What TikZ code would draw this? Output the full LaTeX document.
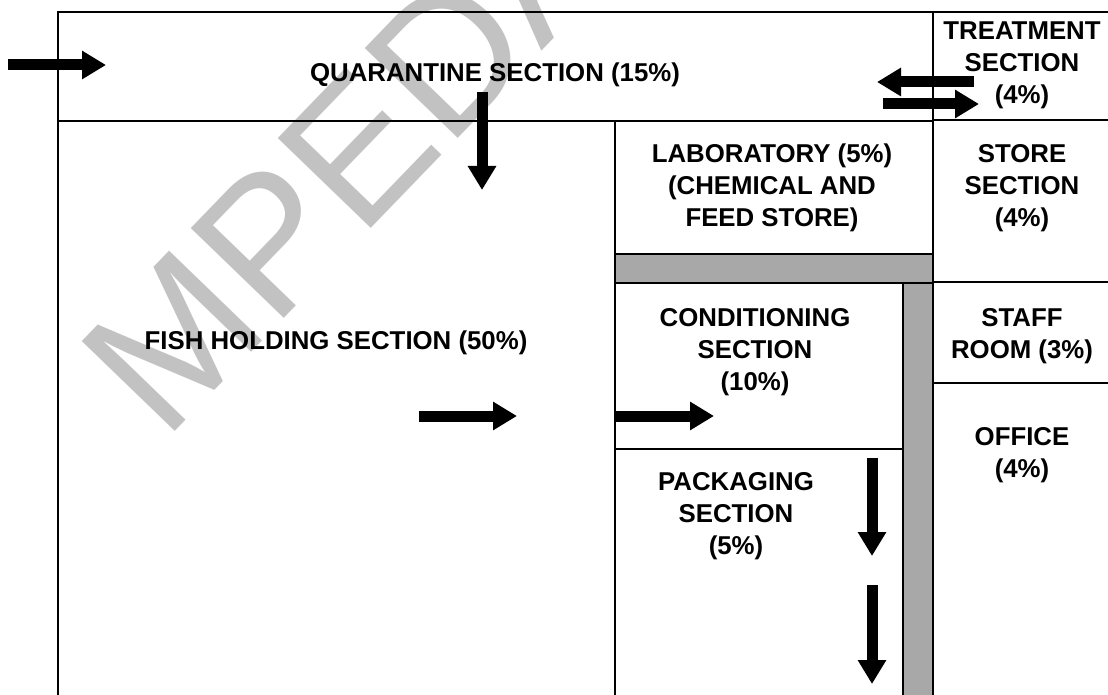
\documentclass[tikz,border=0pt]{standalone}
\usepackage{fontspec}
\setmainfont{Liberation Sans}
\usetikzlibrary{arrows.meta}
\begin{document}
\begin{tikzpicture}[x=1pt,y=-1pt,
  wall/.style={line width=2.2pt,line cap=rect},
  strip/.style={fill=black!34,draw=black,line width=2.2pt},
  lab/.style={font=\fontsize{25.8}{32}\selectfont\bfseries,align=center,inner sep=0pt},
  flow/.style={line width=11pt,-{Triangle[length=24pt,width=27pt]}},
  wm/.style={font=\fontsize{188}{188}\selectfont,text=black!24,inner sep=0pt}]
\useasboundingbox (0,0) rectangle (1108,695);
\begin{scope}
\clip (0,0) rectangle (1108,695);
\node[wm,rotate=46] (wmark) at (350,157) {MPEDA};
% walls
\draw[wall] (58,695) -- (58,12) -- (1108,12);
\draw[wall] (58,121) -- (933,121);
\draw[wall] (933,12) -- (933,695);
\draw[wall] (933,120) -- (1108,120);
\draw[wall] (615,121) -- (615,695);
\draw[wall] (615,449) -- (903,449);
\draw[wall] (933,282) -- (1108,282);
\draw[wall] (933,383) -- (1108,383);
\draw[strip] (615,254) rectangle (933,283);
\draw[strip] (903,283) rectangle (933,700);
\end{scope}
% labels
\node[lab] (quar) at (495,75) {QUARANTINE SECTION (15\%)};
\node[lab] (treat) at (1022,65) {TREATMENT\\SECTION\\(4\%)};
\node[lab] (lab) at (772,188) {LABORATORY (5\%)\\(CHEMICAL AND\\FEED STORE)};
\node[lab] (store) at (1022,188) {STORE\\SECTION\\(4\%)};
\node[lab] (fish) at (336,343) {FISH HOLDING SECTION (50\%)};
\node[lab] (cond) at (755,352) {CONDITIONING\\SECTION\\(10\%)};
\node[lab] (staff) at (1022,336) {STAFF\\ROOM (3\%)};
\node[lab] (office) at (1022,455) {OFFICE\\(4\%)};
\node[lab] (pack) at (736,516) {PACKAGING\\SECTION\\(5\%)};
% arrow end points
\coordinate (inA) at (8,65);   \coordinate (inB) at (106,65);
\coordinate (qA) at (482,92);  \coordinate (qB) at (482,190);
\coordinate (tA) at (974,82);  \coordinate (tB) at (877,82);
\coordinate (tC) at (883,104); \coordinate (tD) at (979,104);
\coordinate (fA) at (419,416); \coordinate (fB) at (517,416);
\coordinate (cA) at (615,416); \coordinate (cB) at (714,416);
\coordinate (pA) at (872,458); \coordinate (pB) at (872,556);
\coordinate (pC) at (872,585); \coordinate (pD) at (872,684);
\draw[flow] (inA) -- (inB);
\draw[flow] (qA) -- (qB);
\draw[flow] (tA) -- (tB);
\draw[flow] (tC) -- (tD);
\draw[flow] (fA) -- (fB);
\draw[flow] (cA) -- (cB);
\draw[flow] (pA) -- (pB);
\draw[flow] (pC) -- (pD);
\end{tikzpicture}
\end{document}
